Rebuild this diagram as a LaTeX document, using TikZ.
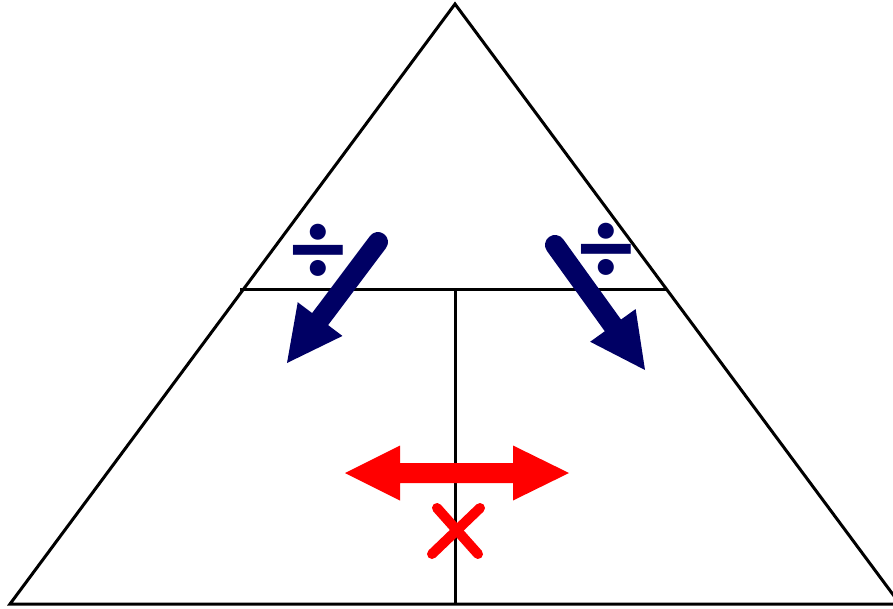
\documentclass[tikz,border=0pt]{standalone}
\usepackage{fontspec}
\newfontfamily\symfont{Carlito}
\usetikzlibrary{calc}
\definecolor{navy}{RGB}{0,0,100}
\definecolor{redx}{RGB}{255,0,0}
\tikzset{
  frame/.style={line width=3pt, black, line join=miter},
  shaftblue/.style={line width=20pt, navy, line cap=round},
  divsign/.style={navy, inner sep=0pt, font=\symfont\bfseries\fontsize{108}{108}\selectfont},
  crossline/.style={line width=10pt, redx, line cap=round}
}
\begin{document}
\begin{tikzpicture}[x=1pt,y=-1pt]
\useasboundingbox (0,0) rectangle (893,609);
% triangle frame
\coordinate (apex) at (455,4);
\coordinate (bl) at (10,604);
\coordinate (br) at (900,604);
\coordinate (ml) at (240,290);
\coordinate (mr) at (666,290);
\coordinate (mc) at (455,290);
\coordinate (bc) at (455,604);
\draw[frame] (apex) -- (bl) -- (br) -- cycle;
\draw[frame] (ml) -- (mr);
\draw[frame] (mc) -- (bc);
% left blue arrow
\coordinate (lt) at (378,242);
\coordinate (lp) at (287,363);
\coordinate (lb) at (320.1,319.1);
\draw[shaftblue] (lt) -- (lb);
\fill[navy] ($(lb)!28pt!90:(lp)$) -- (lp) -- ($(lb)!28pt!-90:(lp)$) -- cycle;
% right blue arrow
\coordinate (rt) at (555,245);
\coordinate (rp) at (645,370);
\coordinate (rb) at (612.9,325.4);
\draw[shaftblue] (rt) -- (rb);
\fill[navy] ($(rb)!28pt!90:(rp)$) -- (rp) -- ($(rb)!28pt!-90:(rp)$) -- cycle;
% division signs
\node[divsign] (divl) at (318,254) {÷};
\node[divsign] (divr) at (606,253) {÷};
% red double arrow
\fill[redx] (345,473) -- (400,445.5) -- (400,463) -- (513,463) -- (513,445.5) -- (569,473)
  -- (513,500.5) -- (513,483) -- (400,483) -- (400,500.5) -- cycle;
% red cross
\coordinate (xa) at (437,508);
\coordinate (xb) at (478,554);
\coordinate (xc) at (480,508);
\coordinate (xd) at (432,554);
\draw[crossline] (xa) -- (xb);
\draw[crossline] (xc) -- (xd);
\end{tikzpicture}
\end{document}
